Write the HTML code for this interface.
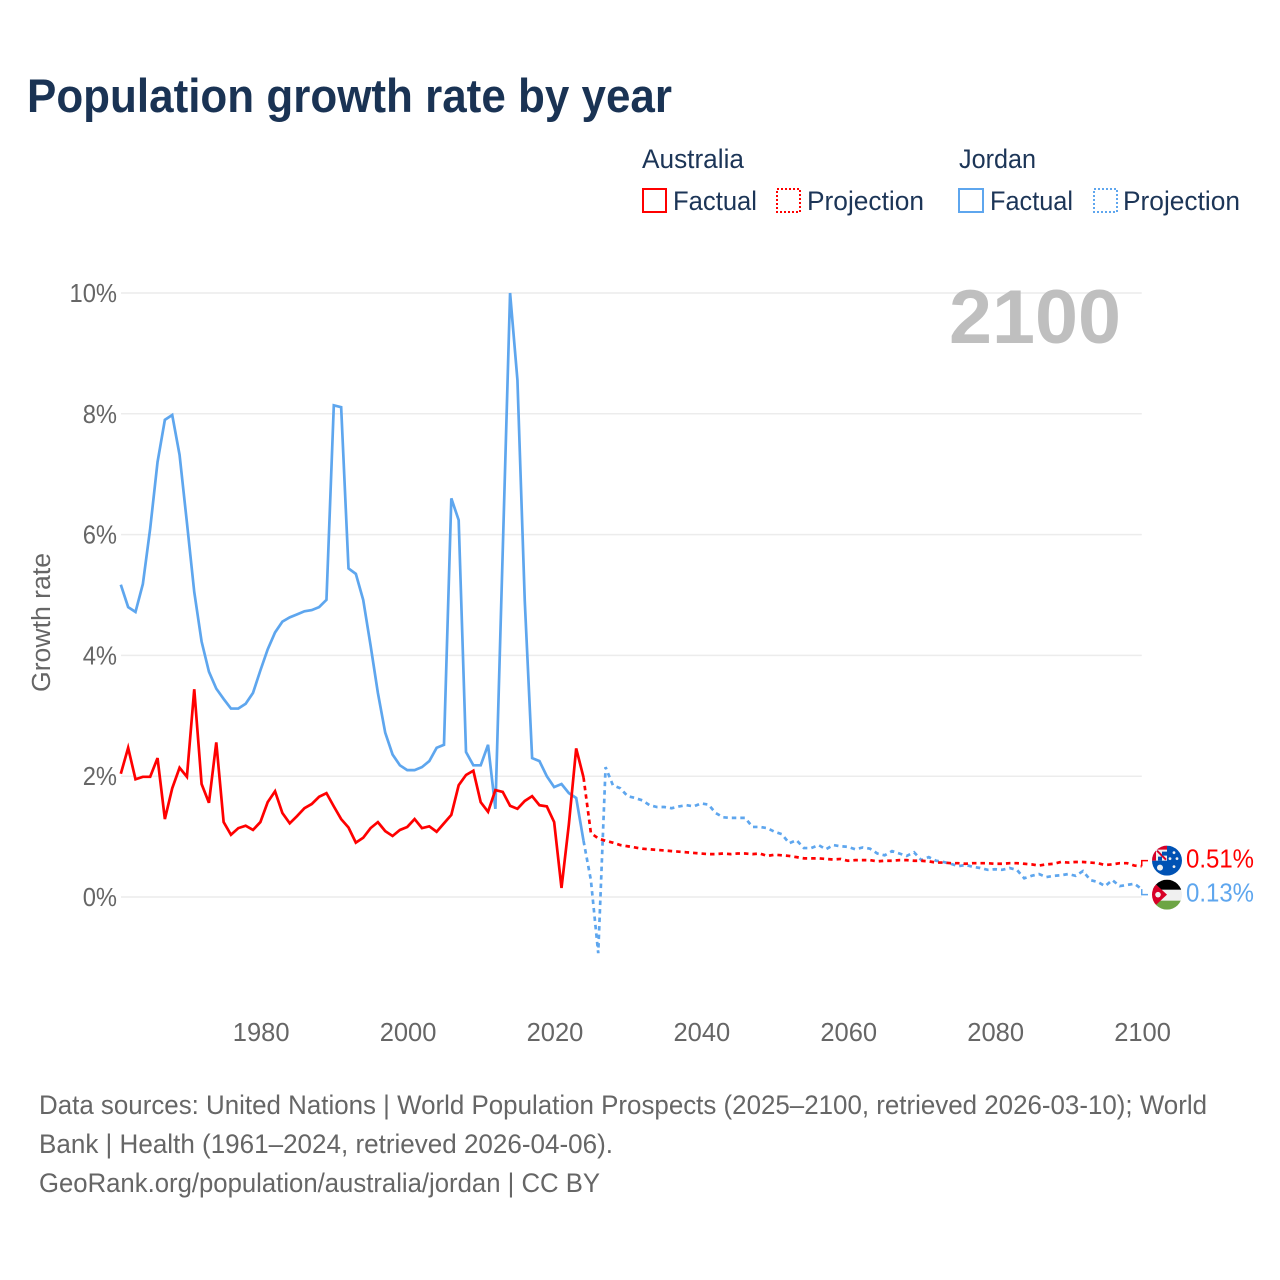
<!DOCTYPE html>
<html lang="en">
<head>
<meta charset="utf-8">
<title>Population growth rate by year</title>
<style>
html,body{margin:0;padding:0;background:#fff;width:1280px;height:1280px;overflow:hidden}
svg{display:block}
text{font-family:"Liberation Sans",sans-serif}
</style>
</head>
<body>
<svg id="chart" width="1280" height="1280" viewBox="0 0 1280 1280" xmlns="http://www.w3.org/2000/svg">
  <defs>
    <clipPath id="flag-clip-au"><circle cx="0" cy="0" r="15"/></clipPath>
    <clipPath id="flag-clip-jo"><circle cx="0" cy="0" r="15"/></clipPath>
  </defs>
  <rect width="1280" height="1280" fill="#fff"/>
  <text x="27" y="112" font-size="47" font-weight="700" fill="#1a3354" textLength="645" lengthAdjust="spacingAndGlyphs">Population growth rate by year</text>

  <g font-size="26.5" fill="#1c3557">
    <text x="642" y="168" textLength="102" lengthAdjust="spacingAndGlyphs">Australia</text>
    <rect x="643" y="189" width="23" height="23" fill="none" stroke="#ff0000" stroke-width="2"/>
    <text x="673" y="210" textLength="84" lengthAdjust="spacingAndGlyphs">Factual</text>
    <rect x="777" y="189" width="23" height="23" fill="none" stroke="#ff0000" stroke-width="2" stroke-dasharray="2 2"/>
    <text x="807" y="210" textLength="117" lengthAdjust="spacingAndGlyphs">Projection</text>
    <text x="959" y="168" textLength="77" lengthAdjust="spacingAndGlyphs">Jordan</text>
    <rect x="959" y="189" width="24" height="23" fill="none" stroke="#5ea6ee" stroke-width="2"/>
    <text x="990" y="210" textLength="83" lengthAdjust="spacingAndGlyphs">Factual</text>
    <rect x="1094" y="189" width="23" height="23" fill="none" stroke="#5ea6ee" stroke-width="2" stroke-dasharray="2 2"/>
    <text x="1123" y="210" textLength="117" lengthAdjust="spacingAndGlyphs">Projection</text>
  </g>

  <g id="grid"></g>
  <g id="y-ticks"></g>
  <g id="x-ticks"></g>
  <text transform="translate(50,692) rotate(-90)" font-size="25.5" fill="#666" textLength="139" lengthAdjust="spacingAndGlyphs">Growth rate</text>
  <text x="949" y="343" font-size="76" font-weight="700" fill="#bfbfbf" textLength="172" lengthAdjust="spacingAndGlyphs">2100</text>

  <g id="series"></g>

  <g id="flag-au">
    <g clip-path="url(#flag-clip-au)">
      <rect x="-15" y="-15" width="30" height="30" fill="#0052b4"/>
      <rect x="-15" y="-15" width="15" height="15" fill="#f0f0f0"/>
      <path d="M-15 -15H0V-11H-11V0H-15Z" fill="#d80027"/>
      <path d="M-10 -10L-1 -1" stroke="#d80027" stroke-width="2"/>
      <path d="M-9 -4H-5V0H-9Z" fill="#0052b4"/>
      <path d="M-5 -9H0V-5H-5Z" fill="#0052b4"/>
      <circle cx="-7" cy="7" r="3" fill="#f0f0f0"/>
      <circle cx="7" cy="-8" r="1.4" fill="#f0f0f0"/>
      <circle cx="3" cy="-2" r="1.4" fill="#f0f0f0"/>
      <circle cx="10" cy="-2" r="1.4" fill="#f0f0f0"/>
      <circle cx="7" cy="6" r="1.4" fill="#f0f0f0"/>
    </g>
  </g>
  <g id="flag-jo">
    <g clip-path="url(#flag-clip-jo)">
      <rect x="-15" y="-15" width="30" height="30" fill="#f0f0f0"/>
      <rect x="-15" y="-15" width="30" height="10" fill="#000"/>
      <rect x="-15" y="6" width="30" height="9" fill="#6da544"/>
      <path d="M-15 -14L0 0L-15 14Z" fill="#d80027"/>
      <circle cx="-9" cy="0" r="2.8" fill="#f0f0f0"/>
    </g>
  </g>
  <text id="label-au" x="1186" font-size="25.5" fill="#ff0000"></text>
  <text id="label-jo" x="1186" font-size="25.5" fill="#5ea6ee"></text>

  <g font-size="27" fill="#666">
    <text x="39" y="1114" textLength="1168" lengthAdjust="spacingAndGlyphs">Data sources: United Nations | World Population Prospects (2025–2100, retrieved 2026-03-10); World</text>
    <text x="39" y="1153" textLength="574" lengthAdjust="spacingAndGlyphs">Bank | Health (1961–2024, retrieved 2026-04-06).</text>
    <text x="39" y="1192" textLength="561" lengthAdjust="spacingAndGlyphs">GeoRank.org/population/australia/jordan | CC BY</text>
  </g>
</svg>
<script>
const firstFactualYear = 1961;
const firstProjectionYear = 2025;
const yTickValues = [0, 2, 4, 6, 8, 10];
const xTickYears = [1980, 2000, 2020, 2040, 2060, 2080, 2100];

const australiaFactual = [2.04,2.47,1.95,1.99,1.99,2.3,1.29,1.8,2.14,1.99,3.44,1.87,1.56,2.56,1.24,1.03,1.14,1.18,1.11,1.24,1.57,1.75,1.39,1.22,1.34,1.47,1.54,1.66,1.72,1.5,1.29,1.15,0.9,0.98,1.14,1.24,1.09,1.01,1.11,1.16,1.29,1.14,1.17,1.08,1.22,1.36,1.85,2.02,2.09,1.57,1.41,1.77,1.74,1.51,1.46,1.59,1.67,1.52,1.5,1.24,0.15,1.2,2.46,1.98];
const jordanFactual = [5.17,4.8,4.72,5.18,6.1,7.2,7.9,7.98,7.32,6.2,5.05,4.23,3.73,3.45,3.28,3.12,3.12,3.2,3.38,3.75,4.1,4.38,4.56,4.63,4.68,4.73,4.75,4.8,4.92,8.14,8.11,5.44,5.35,4.92,4.17,3.38,2.72,2.36,2.18,2.1,2.1,2.15,2.25,2.47,2.52,6.6,6.24,2.4,2.18,2.18,2.52,1.46,5.73,10,8.56,4.9,2.3,2.25,2,1.82,1.87,1.72,1.64,0.93];
const australiaProjection = [1.06,0.97,0.93,0.9,0.86,0.84,0.82,0.8,0.79,0.78,0.77,0.76,0.75,0.74,0.73,0.72,0.71,0.71,0.72,0.71,0.72,0.72,0.71,0.72,0.68,0.7,0.69,0.68,0.66,0.64,0.64,0.64,0.63,0.62,0.63,0.6,0.61,0.61,0.61,0.59,0.6,0.6,0.61,0.61,0.6,0.6,0.59,0.57,0.57,0.56,0.56,0.55,0.56,0.56,0.56,0.55,0.55,0.56,0.56,0.55,0.54,0.52,0.54,0.55,0.58,0.57,0.58,0.58,0.57,0.56,0.53,0.54,0.56,0.56,0.52,0.51];
const jordanProjection = [0.28,-0.93,2.15,1.85,1.8,1.67,1.64,1.6,1.52,1.49,1.49,1.47,1.5,1.52,1.5,1.55,1.53,1.39,1.32,1.31,1.31,1.31,1.16,1.16,1.14,1.08,1.04,0.89,0.94,0.81,0.81,0.86,0.79,0.86,0.84,0.83,0.79,0.82,0.8,0.72,0.69,0.76,0.72,0.68,0.74,0.61,0.66,0.6,0.58,0.55,0.51,0.53,0.5,0.48,0.45,0.46,0.45,0.48,0.45,0.31,0.35,0.38,0.33,0.35,0.36,0.38,0.35,0.43,0.28,0.25,0.18,0.28,0.18,0.2,0.22,0.13];

const SVG_NS = 'http://www.w3.org/2000/svg';
const RED = '#ff0000';
const BLUE = '#5ea6ee';

function xScale(year) { return 120.8 + (year - 1961) * 7.345; }
function yScale(value) { return 897 - value * 60.4; }
function toPoints(values, startYear) {
  return values.map(function (v, i) { return xScale(startYear + i).toFixed(2) + ',' + yScale(v).toFixed(2); });
}
function make(tag, attrs, parent) {
  const el = document.createElementNS(SVG_NS, tag);
  Object.keys(attrs).forEach(function (k) { el.setAttribute(k, attrs[k]); });
  parent.appendChild(el);
  return el;
}

const gridGroup = document.getElementById('grid');
const yTickGroup = document.getElementById('y-ticks');
const xTickGroup = document.getElementById('x-ticks');
const seriesGroup = document.getElementById('series');

yTickValues.forEach(function (v) {
  const line = make('line', { x1: 121, x2: xScale(2100), y1: yScale(v), y2: yScale(v), stroke: '#ececec', 'stroke-width': 1.5 }, gridGroup);
  
  
  const label = make('text', { x: 117, y: yScale(v) + 9, 'text-anchor': 'end', 'font-size': 25.5, fill: '#666' }, yTickGroup);
  label.textContent = v + '%';
  
  
  label.setAttribute('textLength', (label.getComputedTextLength() * 0.93).toFixed(1));
  label.setAttribute('lengthAdjust', 'spacingAndGlyphs');
});

xTickYears.forEach(function (year) {
  const label = make('text', { x: xScale(year) + 0.8, y: 1041, 'text-anchor': 'middle', 'font-size': 25.5, fill: '#666' }, xTickGroup);
  label.textContent = String(year);
  
  
});

function drawLine(points, color, dash, name) {
  const attrs = { points: points.join(' '), fill: 'none', stroke: color, 'stroke-width': 2.7, 'stroke-linejoin': 'miter' };
  if (dash) { attrs['stroke-dasharray'] = dash; }
  const line = make('polyline', attrs, seriesGroup);
  
  
  return line;
}

const lastAu = australiaFactual[australiaFactual.length - 1];
const lastJo = jordanFactual[jordanFactual.length - 1];
const auProjPoints = toPoints([lastAu].concat(australiaProjection), firstProjectionYear - 1);
const joProjPoints = toPoints([lastJo].concat(jordanProjection), firstProjectionYear - 1);

drawLine(toPoints(jordanFactual, firstFactualYear), BLUE, null, 'line-jordan-factual');
drawLine(toPoints(australiaFactual, firstFactualYear), RED, null, 'line-australia-factual');
drawLine(joProjPoints, BLUE, '4.5 4', 'line-jordan-projection');
drawLine(auProjPoints, RED, '4.5 4', 'line-australia-projection');

const endAu = australiaProjection[australiaProjection.length - 1];
const endJo = jordanProjection[jordanProjection.length - 1];
const labelMid = (yScale(endAu) + yScale(endJo)) / 2;
const labelYAu = labelMid - 17;
const labelYJo = labelMid + 17;
const endX = xScale(2100);

const connectorAu = make('path', { d: 'M' + endX + ' ' + yScale(endAu) + 'V' + labelYAu + 'H1148', fill: 'none', stroke: RED, 'stroke-width': 1.5 }, seriesGroup);


const connectorJo = make('path', { d: 'M' + endX + ' ' + yScale(endJo) + 'V' + labelYJo + 'H1148', fill: 'none', stroke: BLUE, 'stroke-width': 1.5 }, seriesGroup);



document.getElementById('flag-au').setAttribute('transform', 'translate(1167,' + labelYAu + ')');
document.getElementById('flag-jo').setAttribute('transform', 'translate(1167,' + labelYJo + ')');

const labelAu = document.getElementById('label-au');
labelAu.setAttribute('y', labelYAu + 7);
labelAu.textContent = endAu.toFixed(2) + '%';
labelAu.setAttribute('textLength', '68');
labelAu.setAttribute('lengthAdjust', 'spacingAndGlyphs');
const labelJo = document.getElementById('label-jo');
labelJo.setAttribute('y', labelYJo + 7);
labelJo.textContent = endJo.toFixed(2) + '%';
labelJo.setAttribute('textLength', '68');
labelJo.setAttribute('lengthAdjust', 'spacingAndGlyphs');
</script>
</body>
</html>
